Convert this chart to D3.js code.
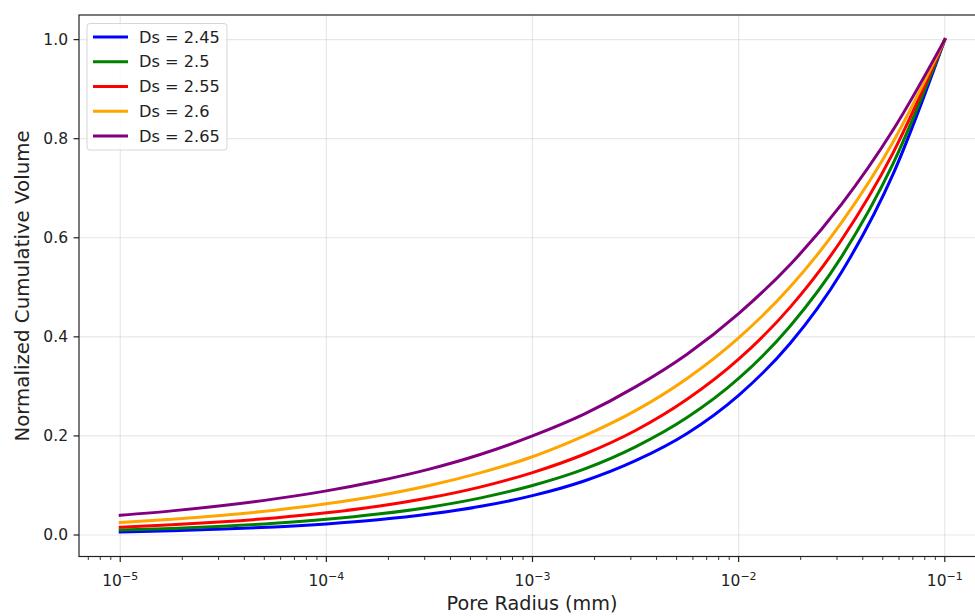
<!DOCTYPE html>
<html>
<head>
<meta charset="utf-8">
<script src="https://cdn.jsdelivr.net/npm/d3@7"></script>
<style>
  html, body { margin: 0; padding: 0; background: #fff; }
  svg { display: block; font-family: "DejaVu Sans", sans-serif; }
</style>
</head>
<body>
<svg id="chart" width="975" height="616"></svg>
<script>
// ---- Data ----
const poreRadius = [1e-5, 1.78e-5, 3.16e-5, 5.62e-5, 1e-4, 1.78e-4, 3.16e-4, 5.62e-4,
                    1e-3, 1.78e-3, 3.16e-3, 5.62e-3, 1e-2, 1.78e-2, 3.16e-2, 5.62e-2, 1e-1];
const seriesNames = ["Ds = 2.45", "Ds = 2.5", "Ds = 2.55", "Ds = 2.6", "Ds = 2.65"];
const seriesColors = ["blue", "green", "red", "orange", "purple"];
const ds245 = [0.0063, 0.0087, 0.0119, 0.0163, 0.0224, 0.0307, 0.0422, 0.0579, 0.0794, 0.109, 0.150, 0.205, 0.282, 0.387, 0.531, 0.729, 1.0];
const ds250 = [0.0100, 0.0133, 0.0178, 0.0237, 0.0316, 0.0422, 0.0562, 0.0750, 0.100, 0.133, 0.178, 0.237, 0.316, 0.422, 0.562, 0.750, 1.0];
const ds255 = [0.0158, 0.0205, 0.0266, 0.0345, 0.0447, 0.0579, 0.0750, 0.0972, 0.126, 0.163, 0.211, 0.274, 0.355, 0.460, 0.596, 0.772, 1.0];
const ds260 = [0.0251, 0.0316, 0.0398, 0.0501, 0.0631, 0.0794, 0.100, 0.126, 0.158, 0.200, 0.251, 0.316, 0.398, 0.501, 0.631, 0.794, 1.0];
const ds265 = [0.0398, 0.0487, 0.0596, 0.0729, 0.0891, 0.109, 0.133, 0.163, 0.200, 0.244, 0.299, 0.365, 0.447, 0.546, 0.668, 0.818, 1.0];
const seriesValues = [ds245, ds250, ds255, ds260, ds265];
const xTickValues = [1e-5, 1e-4, 1e-3, 1e-2, 1e-1];
const xTickExponents = ["\u22125", "\u22124", "\u22123", "\u22122", "\u22121"];
const yTickValues = [0.0, 0.2, 0.4, 0.6, 0.8, 1.0];
const yTickLabels = ["0.0", "0.2", "0.4", "0.6", "0.8", "1.0"];
const xLabel = "Pore Radius (mm)";
const yLabel = "Normalized Cumulative Volume";

// ---- Layout ----
const svg = d3.select("#chart");
const pL = 79, pR = 986, pT = 15, pB = 556.5;

const x = d3.scaleLog().domain([Math.pow(10, -5.2), Math.pow(10, -0.8)]).range([pL, pR]);
const y = d3.scaleLinear().domain([-0.0434, 1.0497]).range([pB, pT]);

// Grid
const grid = svg.append("g");
xTickValues.forEach(v => {
  grid.append("line").attr("x1", x(v)).attr("x2", x(v)).attr("y1", pT).attr("y2", pB)
    .attr("stroke", "#b0b0b0").attr("stroke-opacity", 0.3).attr("stroke-width", 1.2);
});
yTickValues.forEach(v => {
  grid.append("line").attr("x1", pL).attr("x2", pR).attr("y1", y(v)).attr("y2", y(v))
    .attr("stroke", "#b0b0b0").attr("stroke-opacity", 0.3).attr("stroke-width", 1.2);
});

// Lines
const line = d3.line()
  .x((d, i) => x(poreRadius[i]))
  .y(d => y(d))
  .curve(d3.curveMonotoneX);

svg.append("clipPath").attr("id", "clip")
  .append("rect").attr("x", pL).attr("y", pT).attr("width", pR - pL).attr("height", pB - pT);

seriesValues.forEach((vals, k) => {
  svg.append("path").datum(vals)
    .attr("d", line)
    .attr("fill", "none")
    .attr("stroke", seriesColors[k])
    .attr("stroke-width", 3)
    .attr("stroke-linejoin", "round")
    .attr("stroke-linecap", "square")
    .attr("clip-path", "url(#clip)");
});

// Spines
svg.append("rect").attr("x", pL).attr("y", pT).attr("width", pR - pL).attr("height", pB - pT)
  .attr("fill", "none").attr("stroke", "#222").attr("stroke-width", 1.2);

// X axis ticks
const xAxis = svg.append("g");
const minor = [];
for (let e = -6; e <= 0; e++) for (let m = 2; m <= 9; m++) {
  const v = m * Math.pow(10, e);
  if (v >= x.domain()[0] && v <= x.domain()[1]) minor.push(v);
}
minor.forEach(v => {
  xAxis.append("line").attr("x1", x(v)).attr("x2", x(v)).attr("y1", pB).attr("y2", pB + 3.5)
    .attr("stroke", "#222").attr("stroke-width", 0.9);
});
xTickValues.forEach((v, i) => {
  xAxis.append("line").attr("x1", x(v)).attr("x2", x(v)).attr("y1", pB).attr("y2", pB + 5.5)
    .attr("stroke", "#222").attr("stroke-width", 1.2);
  const t = xAxis.append("text").attr("x", x(v)).attr("y", 586)
    .attr("text-anchor", "middle").attr("font-size", 15.5).attr("fill", "#222");
  t.append("tspan").text("10");
  t.append("tspan").attr("dy", -6).attr("font-size", 11).text(xTickExponents[i]);
});

// Y axis ticks
const yAxis = svg.append("g");
yTickValues.forEach((v, i) => {
  yAxis.append("line").attr("x1", pL - 5.5).attr("x2", pL).attr("y1", y(v)).attr("y2", y(v))
    .attr("stroke", "#222").attr("stroke-width", 1.2);
  yAxis.append("text").attr("x", pL - 11).attr("y", y(v)).attr("dy", "0.35em")
    .attr("text-anchor", "end").attr("font-size", 15.5).attr("fill", "#222").text(yTickLabels[i]);
});

// Axis labels
svg.append("text").attr("x", (pL + pR) / 2 - 0.5).attr("y", 610)
  .attr("text-anchor", "middle").attr("font-size", 19.2).attr("fill", "#222").text(xLabel);
svg.append("text").attr("transform", `translate(28.5, 286) rotate(-90)`)
  .attr("text-anchor", "middle").attr("font-size", 19.8).attr("fill", "#222").text(yLabel);

// Legend
const lg = svg.append("g");
lg.append("rect").attr("x", 87).attr("y", 23.5).attr("width", 140).attr("height", 126.5)
  .attr("rx", 3).attr("fill", "#fff").attr("fill-opacity", 0.8)
  .attr("stroke", "#d6d6d6").attr("stroke-width", 1);
seriesNames.forEach((name, k) => {
  const cy = 37 + k * 24.75;
  lg.append("line").attr("x1", 93).attr("x2", 128).attr("y1", cy).attr("y2", cy)
    .attr("stroke", seriesColors[k]).attr("stroke-width", 3);
  lg.append("text").attr("x", 139).attr("y", cy).attr("dy", "0.35em")
    .attr("font-size", 16.2).attr("fill", "#222").text(name);
});
</script>
</body>
</html>
